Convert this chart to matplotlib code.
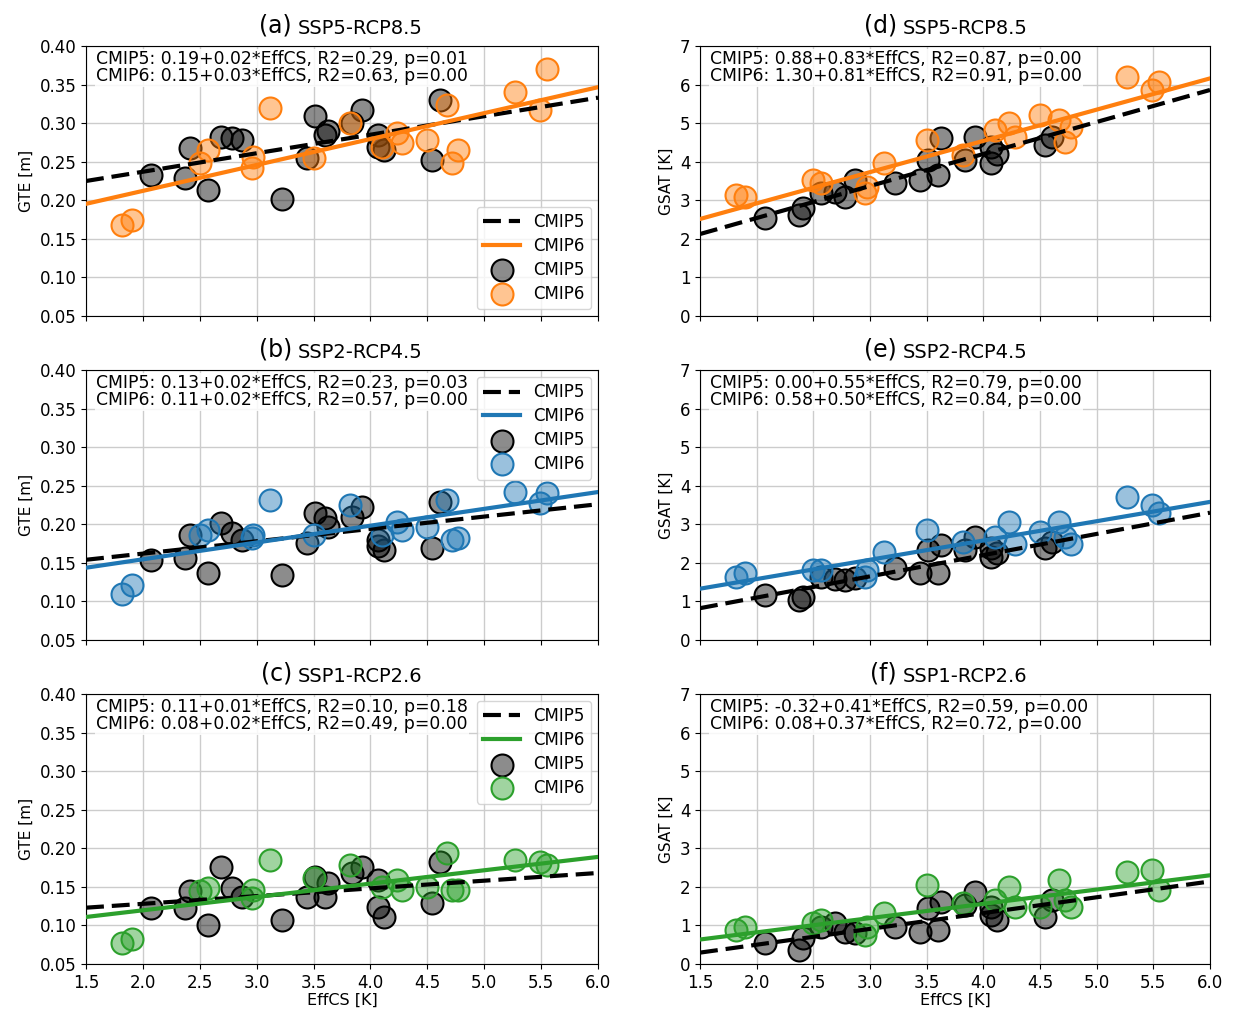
import numpy as np
import matplotlib
matplotlib.use("Agg")
import matplotlib.pyplot as plt
from matplotlib.colors import to_rgba

# EffCS of the models (same in every panel)
effcs5 = [2.07, 2.41, 2.37, 2.57, 2.69, 2.78, 2.87, 3.22, 3.44, 3.51, 3.60, 3.63,
          3.84, 3.93, 4.07, 4.07, 4.12, 4.54, 4.61]
effcs6 = [1.82, 1.90, 2.50, 2.57, 2.96, 2.97, 3.12, 3.50, 3.82, 4.10, 4.23, 4.28,
          4.50, 4.67, 4.72, 4.77, 5.27, 5.49, 5.55]

# GTE [m]
gte5_585 = [0.233, 0.268, 0.229, 0.213, 0.282, 0.281, 0.278, 0.202, 0.255, 0.309, 0.285, 0.290,
            0.300, 0.317, 0.285, 0.269, 0.265, 0.252, 0.330]
gte6_585 = [0.168, 0.175, 0.248, 0.265, 0.242, 0.256, 0.320, 0.255, 0.300, 0.269, 0.287, 0.274,
            0.278, 0.323, 0.248, 0.265, 0.340, 0.317, 0.370]
gte5_245 = [0.154, 0.186, 0.156, 0.137, 0.202, 0.189, 0.180, 0.134, 0.176, 0.215, 0.208, 0.197,
            0.210, 0.222, 0.180, 0.172, 0.167, 0.169, 0.229]
gte6_245 = [0.109, 0.121, 0.186, 0.193, 0.182, 0.186, 0.232, 0.186, 0.225, 0.186, 0.203, 0.193,
            0.197, 0.232, 0.180, 0.182, 0.242, 0.228, 0.240]
gte5_126 = [0.123, 0.144, 0.123, 0.101, 0.176, 0.149, 0.137, 0.107, 0.137, 0.163, 0.137, 0.155,
            0.168, 0.176, 0.159, 0.124, 0.111, 0.129, 0.182]
gte6_126 = [0.077, 0.082, 0.144, 0.149, 0.136, 0.146, 0.185, 0.162, 0.178, 0.150, 0.159, 0.146,
            0.150, 0.194, 0.146, 0.146, 0.185, 0.182, 0.178]

# GSAT [K]
gsat5_585 = [2.54, 2.80, 2.62, 3.19, 3.22, 3.09, 3.53, 3.45, 3.53, 4.04, 3.66, 4.61,
             4.04, 4.64, 4.38, 3.97, 4.20, 4.43, 4.64]
gsat6_585 = [3.14, 3.09, 3.53, 3.45, 3.19, 3.35, 3.97, 4.56, 4.17, 4.82, 5.00, 4.64,
             5.21, 5.08, 4.51, 4.90, 6.20, 5.86, 6.07]
gsat5_245 = [1.17, 1.11, 1.03, 1.63, 1.58, 1.55, 1.60, 1.87, 1.74, 2.33, 1.74, 2.46,
             2.33, 2.66, 2.38, 2.15, 2.25, 2.38, 2.54]
gsat6_245 = [1.63, 1.74, 1.81, 1.81, 1.63, 1.81, 2.28, 2.85, 2.54, 2.66, 3.06, 2.50,
             2.80, 3.06, 2.66, 2.50, 3.70, 3.50, 3.29]
gsat5_126 = [0.54, 0.67, 0.36, 0.96, 1.06, 0.83, 0.80, 0.96, 0.83, 1.45, 0.88, 1.61,
             1.53, 1.87, 1.48, 1.27, 1.14, 1.22, 1.66]
gsat6_126 = [0.88, 0.96, 1.06, 1.14, 0.75, 0.96, 1.32, 2.05, 1.58, 1.66, 2.00, 1.48,
             1.48, 2.18, 1.66, 1.48, 2.39, 2.44, 1.92]

# regression (intercept, slope)
fit5 = {"a": (0.189, 0.024), "b": (0.130, 0.016), "c": (0.108, 0.010),
        "d": (0.88, 0.83), "e": (0.00, 0.55), "f": (-0.32, 0.41)}
fit6 = {"a": (0.145, 0.0336), "b": (0.111, 0.0218), "c": (0.085, 0.0173),
        "d": (1.30, 0.81), "e": (0.58, 0.50), "f": (0.08, 0.37)}

eq_text = {
    "a": ["CMIP5: 0.19+0.02*EffCS, R2=0.29, p=0.01", "CMIP6: 0.15+0.03*EffCS, R2=0.63, p=0.00"],
    "b": ["CMIP5: 0.13+0.02*EffCS, R2=0.23, p=0.03", "CMIP6: 0.11+0.02*EffCS, R2=0.57, p=0.00"],
    "c": ["CMIP5: 0.11+0.01*EffCS, R2=0.10, p=0.18", "CMIP6: 0.08+0.02*EffCS, R2=0.49, p=0.00"],
    "d": ["CMIP5: 0.88+0.83*EffCS, R2=0.87, p=0.00", "CMIP6: 1.30+0.81*EffCS, R2=0.91, p=0.00"],
    "e": ["CMIP5: 0.00+0.55*EffCS, R2=0.79, p=0.00", "CMIP6: 0.58+0.50*EffCS, R2=0.84, p=0.00"],
    "f": ["CMIP5: -0.32+0.41*EffCS, R2=0.59, p=0.00", "CMIP6: 0.08+0.37*EffCS, R2=0.72, p=0.00"],
}
scen = {"a": "SSP5-RCP8.5", "b": "SSP2-RCP4.5", "c": "SSP1-RCP2.6",
        "d": "SSP5-RCP8.5", "e": "SSP2-RCP4.5", "f": "SSP1-RCP2.6"}
ydata = {"a": (gte5_585, gte6_585), "b": (gte5_245, gte6_245), "c": (gte5_126, gte6_126),
         "d": (gsat5_585, gsat6_585), "e": (gsat5_245, gsat6_245), "f": (gsat5_126, gsat6_126)}
col6 = {"a": "#ff7f0e", "b": "#1f77b4", "c": "#2ca02c",
        "d": "#ff7f0e", "e": "#1f77b4", "f": "#2ca02c"}

fig = plt.figure(figsize=(12.39, 10.14), dpi=100)
W, H = 1239, 1014
lefts = [86, 700]
widths = [512, 510]
tops = [46, 370, 694]
ph = 270

xx = np.array([1.5, 6.0])
for ci, panels in enumerate([["a", "b", "c"], ["d", "e", "f"]]):
    for ri, p in enumerate(panels):
        ax = fig.add_axes([lefts[ci] / W, 1 - (tops[ri] + ph) / H, widths[ci] / W, ph / H])
        c = col6[p]
        y5, y6 = ydata[p]
        ax.plot(xx, fit5[p][0] + fit5[p][1] * xx, "k--", lw=3, dashes=(4.3, 1.9),
                label="CMIP5", zorder=3)
        ax.plot(xx, fit6[p][0] + fit6[p][1] * xx, "-", color=c, lw=3, label="CMIP6", zorder=3)
        ax.scatter(effcs5, y5, s=250, facecolor=to_rgba("k", 0.45), edgecolor="k",
                   linewidth=1.5, label="CMIP5", zorder=2)
        ax.scatter(effcs6, y6, s=250, facecolor=to_rgba(c, 0.45), edgecolor=c,
                   linewidth=1.5, label="CMIP6", zorder=2)
        ax.set_xlim(1.5, 6.0)
        ax.set_xticks(np.arange(1.5, 6.01, 0.5))
        if ci == 0:
            ax.set_ylim(0.05, 0.40)
            ax.set_yticks(np.arange(0.05, 0.401, 0.05))
            ax.set_ylabel("GTE [m]", fontsize=11)
        else:
            ax.set_ylim(0, 7)
            ax.set_yticks(range(0, 8))
            ax.set_ylabel("GSAT [K]", fontsize=11)
        ax.grid(True, color="#cccccc", lw=1)
        ax.set_axisbelow(True)
        ax.tick_params(labelsize=12)
        if ri == 2:
            ax.set_xlabel("EffCS [K]", fontsize=11.5, labelpad=1)
        else:
            ax.tick_params(labelbottom=False)
        ax.text(0.02, 0.985, "\n".join(eq_text[p]), transform=ax.transAxes,
                fontsize=12.4, va="top", ha="left", linespacing=0.95, zorder=5,
                bbox=dict(facecolor="white", edgecolor="none", alpha=0.85, pad=1))
        tx = 0.402 if ci == 0 else 0.386
        ax.text(tx, 1.03, "(" + p + ")", transform=ax.transAxes, fontsize=17,
                ha="right", va="bottom")
        ax.text(tx + 0.012, 1.03, scen[p], transform=ax.transAxes, fontsize=14,
                ha="left", va="bottom")
        if ci == 0:
            loc = "lower right" if ri == 0 else "upper right"
            ax.legend(loc=loc, fontsize=12, labelspacing=0.35, handlelength=2.2,
                      borderaxespad=0.4)

fig.savefig("out.png", dpi=100)
